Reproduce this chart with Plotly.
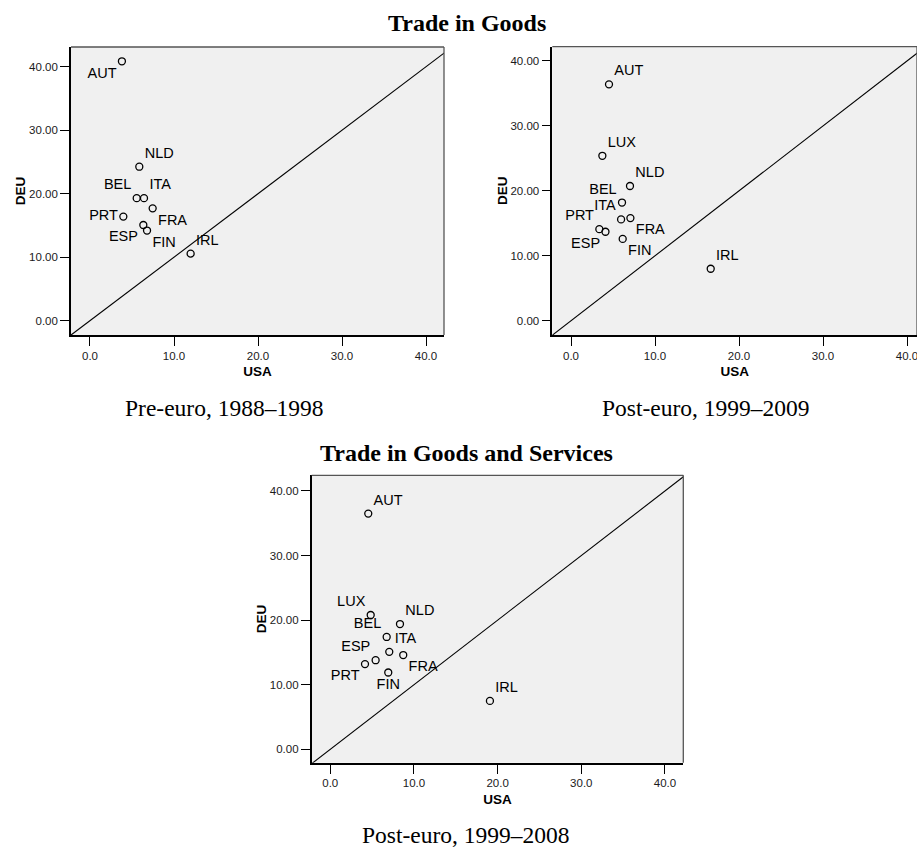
import plotly.graph_objects as go

W, H = 917, 847

# ---------------- data ----------------
countries_pre = ["AUT", "NLD", "BEL", "ITA", "FRA", "PRT", "ESP", "FIN", "IRL"]
usa_pre = [3.8, 5.87, 5.56, 6.43, 7.46, 3.97, 6.35, 6.79, 11.98]
deu_pre = [40.85, 24.25, 19.3, 19.3, 17.7, 16.4, 15.07, 14.2, 10.56]

countries_post = ["AUT", "LUX", "NLD", "BEL", "ITA", "FRA", "PRT", "ESP", "FIN", "IRL"]
usa_post = [4.52, 3.73, 7.02, 6.07, 5.96, 7.07, 3.37, 4.1, 6.15, 16.63]
deu_post = [36.4, 25.4, 20.75, 18.2, 15.6, 15.8, 14.1, 13.7, 12.6, 8.0]

countries_gs = ["AUT", "LUX", "NLD", "BEL", "ITA", "FRA", "ESP", "PRT", "FIN", "IRL"]
usa_gs = [4.54, 4.83, 8.33, 6.74, 7.05, 8.72, 5.42, 4.15, 6.93, 19.08]
deu_gs = [36.5, 20.8, 19.4, 17.4, 15.1, 14.6, 13.8, 13.2, 11.9, 7.5]

tick_vals = [0, 10, 20, 30, 40]
x_title = "USA"
y_title = "DEU"
title_goods = "Trade in Goods"
title_gs = "Trade in Goods and Services"
sub_pre = "Pre-euro, 1988–1998"
sub_post = "Post-euro, 1999–2009"
sub_gs = "Post-euro, 1999–2008"

# ---------------- style: label placement ----------------
pos_pre = {"AUT": "bottom left", "NLD": "top right", "BEL": "top left", "ITA": "top right",
           "FRA": "bottom right", "PRT": "middle left", "ESP": "bottom left",
           "FIN": "bottom right", "IRL": "top right"}
pos_post = {"AUT": "top right", "LUX": "top right", "NLD": "top right", "BEL": "top left",
            "ITA": "top left", "FRA": "bottom right", "PRT": "top left", "ESP": "bottom left",
            "FIN": "bottom right", "IRL": "top right"}
pos_gs = {"AUT": "top right", "LUX": "top left", "NLD": "top right", "BEL": "top left",
          "ITA": "top right", "FRA": "bottom right", "ESP": "top left", "PRT": "bottom left",
          "FIN": "bottom center", "IRL": "top right"}

SANS = "Liberation Sans, Arial, sans-serif"
SERIF = "Liberation Serif, Times New Roman, serif"


def px_x(x):
    return x / W


def px_y(y):
    return 1 - y / H


panels = [
    dict(names=countries_pre, xs=usa_pre, ys=deu_pre, pos=pos_pre,
         box=(71, 47, 444, 335), xr=[-2.26, 42.14], yr=[-2.25, 43.1]),
    dict(names=countries_post, xs=usa_post, ys=deu_post, pos=pos_post,
         box=(552.3, 46.7, 917, 335), xr=[-2.23, 41.19], yr=[-2.2, 42.2]),
    dict(names=countries_gs, xs=usa_gs, ys=deu_gs, pos=pos_gs,
         box=(311.7, 475.3, 683.3, 762.7), xr=[-2.22, 42.19], yr=[-2.07, 42.43]),
]

fig = go.Figure()
shapes = []
layout = {}

for i, p in enumerate(panels, start=1):
    sfx = "" if i == 1 else str(i)
    xa, ya = "x" + sfx, "y" + sfx
    x0, y0, x1, y1 = p["box"]
    common = dict(
        ticks="outside", ticklen=9, tickwidth=1.3, tickcolor="black",
        showline=True, linecolor="black", linewidth=1.6, mirror=False,
        showgrid=False, zeroline=False, automargin=False, fixedrange=True,
        tickfont=dict(family=SANS, size=11.5, color="#1a1a1a"),
        tickvals=tick_vals, ticklabeloverflow="allow",
    )
    layout["xaxis" + sfx] = dict(
        common, domain=[px_x(x0), min(px_x(x1), 1.0)], range=p["xr"], anchor=ya,
        tickformat=".1f",
        title=dict(text="<b>%s</b>" % x_title, font=dict(family=SANS, size=13.5, color="black"),
                   standoff=6),
    )
    layout["yaxis" + sfx] = dict(
        common, domain=[px_y(y1), px_y(y0)], range=p["yr"], anchor=xa,
        tickformat=".2f",
        title=dict(text="<b>%s</b>" % y_title, font=dict(family=SANS, size=13.5, color="black"),
                   standoff=0),
    )
    # y = x reference line spanning the axes
    lo = min(p["xr"][0], p["yr"][0])
    hi = max(p["xr"][1], p["yr"][1])
    fig.add_trace(go.Scatter(x=[lo, hi], y=[lo, hi], mode="lines",
                             line=dict(color="black", width=1.1),
                             xaxis=xa, yaxis=ya, hoverinfo="skip", showlegend=False))
    fig.add_trace(go.Scatter(
        x=p["xs"], y=p["ys"], text=p["names"], mode="markers+text",
        textposition=[p["pos"][n] for n in p["names"]],
        textfont=dict(family=SANS, size=14.5, color="black"),
        marker=dict(symbol="circle-open", size=7, color="black", line=dict(width=1.3)),
        xaxis=xa, yaxis=ya, cliponaxis=False, showlegend=False))
    # top and right frame edges (lighter)
    for (ax0, ay0, ax1, ay1) in [(0, 1, 1, 1), (1, 0, 1, 1)]:
        shapes.append(dict(type="line", xref=xa + " domain", yref=ya + " domain",
                           x0=ax0, y0=ay0, x1=ax1, y1=ay1,
                           line=dict(color="#555555", width=1.3), layer="above"))

annotations = [
    dict(text="<b>%s</b>" % title_goods, x=px_x(466.5), y=px_y(23), font=dict(family=SERIF, size=24, color="black")),
    dict(text=sub_pre, x=px_x(224), y=px_y(408), font=dict(family=SERIF, size=23.5, color="black")),
    dict(text=sub_post, x=px_x(706), y=px_y(408), font=dict(family=SERIF, size=23.5, color="black")),
    dict(text="<b>%s</b>" % title_gs, x=px_x(466.8), y=px_y(453), font=dict(family=SERIF, size=24, color="black")),
    dict(text=sub_gs, x=px_x(466), y=px_y(835), font=dict(family=SERIF, size=23.5, color="black")),
]
for a in annotations:
    a.update(xref="paper", yref="paper", xanchor="center", yanchor="middle", showarrow=False)

fig.update_layout(
    width=W, height=H, margin=dict(l=0, r=0, t=0, b=0),
    paper_bgcolor="white", plot_bgcolor="#f0f0f0",
    template="none", showlegend=False,
    shapes=shapes, annotations=annotations, **layout,
)

fig.write_html("out.html",
               config={"displayModeBar": False},
               post_script="document.body.style.margin='0';document.body.style.overflow='hidden';")
